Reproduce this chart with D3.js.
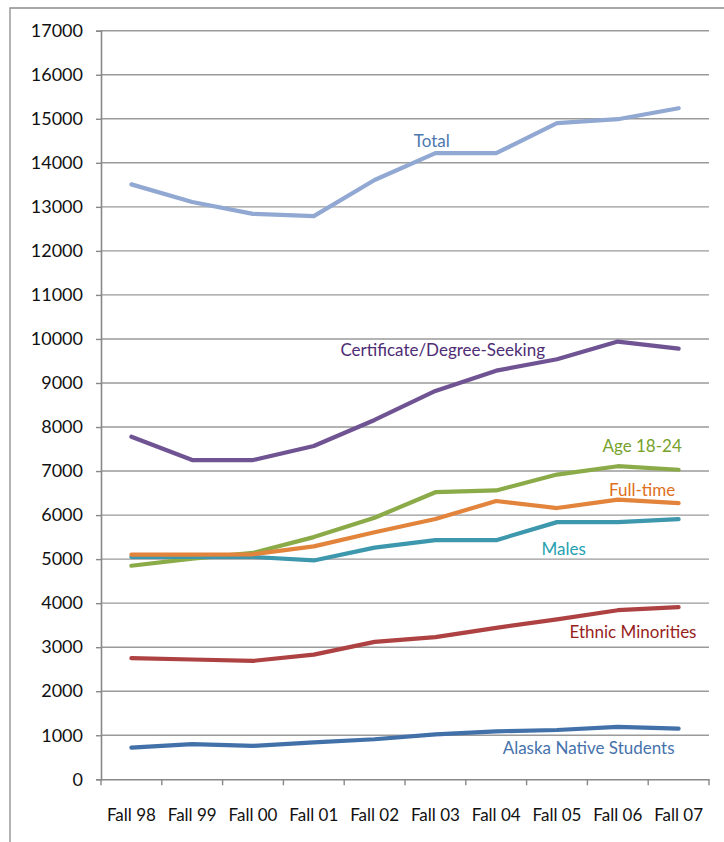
<!DOCTYPE html>
<html>
<head>
<meta charset="utf-8">
<script src="https://cdn.jsdelivr.net/npm/d3@7/dist/d3.min.js"></script>
<style>
  html, body { margin: 0; padding: 0; background: #fff; }
  svg { display: block; }
</style>
</head>
<body>
<svg id="chart" width="724" height="842"></svg>
<script>
const categories = ["Fall 98","Fall 99","Fall 00","Fall 01","Fall 02","Fall 03","Fall 04","Fall 05","Fall 06","Fall 07"];
const yTicks = [0,1000,2000,3000,4000,5000,6000,7000,8000,9000,10000,11000,12000,13000,14000,15000,16000,17000];

const total      = [13510,13110,12840,12790,13610,14220,14220,14900,14990,15240];
const certDegree = [7780,7250,7250,7570,8160,8820,9280,9540,9940,9780];
const age1824    = [4850,5010,5140,5500,5940,6520,6560,6920,7110,7030];
const fullTime   = [5100,5100,5110,5290,5610,5910,6320,6160,6350,6270];
const males      = [5050,5050,5050,4970,5260,5430,5430,5840,5840,5910];
const ethnic     = [2750,2720,2690,2830,3120,3230,3440,3630,3840,3910];
const alaska     = [720,800,760,840,910,1020,1090,1120,1190,1150];

const seriesNames  = ["Total","Certificate/Degree-Seeking","Age 18-24","Males","Full-time","Ethnic Minorities","Alaska Native Students"];
const seriesValues = [total, certDegree, age1824, males, fullTime, ethnic, alaska];
const lineColors   = ["#91A8D2","#6F5393","#8BAA48","#3D98AE","#E2843B","#AE4242","#4270A9"];
const labelColors  = ["#4D78AE","#4E2D74","#76A22B","#25A1B1","#DE6F20","#981E1E","#4672AC"];
// label anchors in data space: [category position (index units), value]
const labelPosIdx  = [4.94, 5.12, 8.40, 7.11, 8.40, 8.25, 7.52];
const labelPosVal  = [14460, 9700, 7540, 5200, 6520, 3300, 670];

const svg = d3.select("#chart");
const W = 724, H = 842;
const m = { left: 101, right: 15, top: 30.7, bottom: 62.7 };
const pw = W - m.left - m.right, ph = H - m.top - m.bottom;

// outer frame (left & top only visible)
svg.append("path").attr("d", `M10,842 L10,8 L724,8`).attr("fill","none").attr("stroke","#8c8c8c").attr("stroke-width",1.3);

const g = svg.append("g").attr("transform", `translate(${m.left},${m.top})`);

const x = d3.scaleBand().domain(categories).range([0, pw]).padding(0);
const y = d3.scaleLinear().domain([0, 17000]).range([ph, 0]);
const xc = i => x(categories[0]) + x.bandwidth() * (i + 0.5);

// gridlines
g.append("g").selectAll("line").data(yTicks.filter(d => d > 0)).join("line")
  .attr("x1", 0).attr("x2", pw)
  .attr("y1", d => y(d)).attr("y2", d => y(d))
  .attr("stroke", "#9a9a9a").attr("stroke-width", 1.4);

// y axis
const yAxis = g.append("g").call(d3.axisLeft(y).tickValues(yTicks).tickSize(5).tickPadding(13).tickFormat(d3.format("d")));
yAxis.select(".domain").attr("stroke", "#888").attr("stroke-width", 1.6);
yAxis.selectAll(".tick line").attr("stroke", "#888").attr("stroke-width", 1.4);
yAxis.selectAll("text").attr("font-family", "Lato, 'Open Sans', sans-serif").attr("font-size", 18).attr("fill", "#111");

// x axis
const xAxis = g.append("g").attr("transform", `translate(0,${ph})`)
  .call(d3.axisBottom(x).tickSize(0).tickPadding(30));
xAxis.select(".domain").attr("stroke", "#888").attr("stroke-width", 1.6);
xAxis.selectAll("text").attr("font-family", "Lato, 'Open Sans', sans-serif").attr("font-size", 17).attr("fill", "#111");
// boundary ticks
g.append("g").attr("transform", `translate(0,${ph})`).selectAll("line")
  .data(d3.range(categories.length + 1)).join("line")
  .attr("x1", i => i * x.bandwidth()).attr("x2", i => i * x.bandwidth())
  .attr("y1", 0).attr("y2", 6).attr("stroke", "#888").attr("stroke-width", 1.4);

// lines
const line = d3.line().x((d, i) => xc(i)).y(d => y(d)).curve(d3.curveLinear);
seriesValues.forEach((vals, k) => {
  g.append("path").datum(vals).attr("d", line)
    .attr("fill", "none").attr("stroke", lineColors[k]).attr("stroke-width", 4.2)
    .attr("stroke-linejoin", "round").attr("stroke-linecap", "round");
});

// labels
seriesNames.forEach((name, k) => {
  g.append("text").text(name)
    .attr("x", xc(labelPosIdx[k])).attr("y", y(labelPosVal[k]))
    .attr("text-anchor", "middle").attr("dominant-baseline", "middle")
    .attr("font-family", "Lato, 'Open Sans', sans-serif").attr("font-size", 17)
    .attr("fill", labelColors[k]);
});
</script>
</body>
</html>
